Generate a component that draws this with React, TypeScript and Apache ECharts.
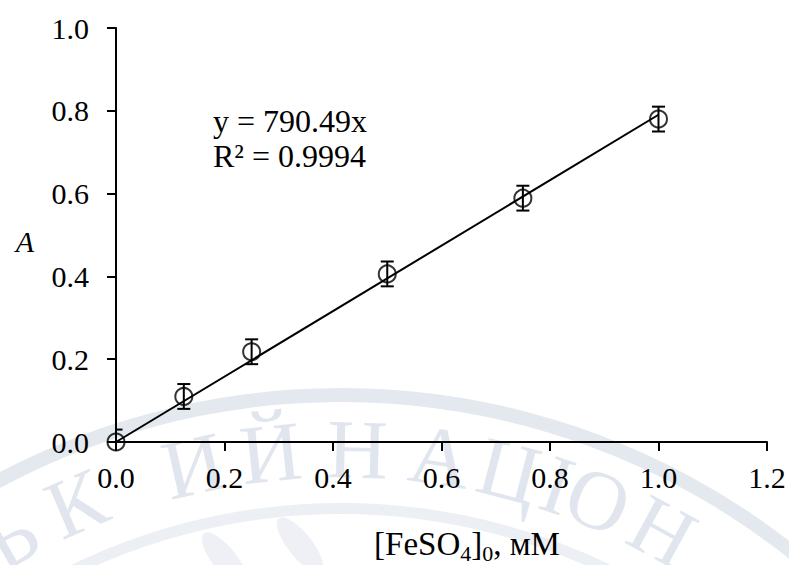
import React, { useEffect, useRef } from "react";
import * as echarts from "echarts";

// ---- data ----
const concentrations = [0, 0.125, 0.25, 0.5, 0.75, 1.0];
const absorbance = [0, 0.11, 0.218, 0.406, 0.589, 0.78];
const absError = [0.03, 0.03, 0.03, 0.03, 0.03, 0.03];
const trendX = [0, 1.0];
const trendY = [0, 0.79049];
const equationLines = ["y = 790.49x", "R² = 0.9994"];
const xTickLabels = ["0.0", "0.2", "0.4", "0.6", "0.8", "1.0", "1.2"];
const yTickLabels = ["0.0", "0.2", "0.4", "0.6", "0.8", "1.0"];

// watermark (seal) letters and their angles along the arc
const sealLetters = ["Ь", "К", "И", "Й", "Н", "А", "Ц", "І", "О", "Н"];
const sealAngles = [-29.5, -23.2, -12.7, -6.0, 1.4, 8.5, 14.5, 18.8, 22.5, 28.6];

const SERIF = "Liberation Serif";

export default function App() {
  const ref = useRef<HTMLDivElement>(null);

  useEffect(() => {
    document.body.style.margin = "0";
    if (!ref.current) return;
    const chart = echarts.init(ref.current, undefined, { renderer: "svg" });

    const cx = 341;
    const cy = 1121;
    const R = 672;
    const sealTexts = sealLetters.map((ch, i) => {
      const t = (sealAngles[i] * Math.PI) / 180;
      return {
        type: "text",
        x: cx + R * Math.sin(t),
        y: cy - R * Math.cos(t),
        rotation: -t,
        z: -100,
        silent: true,
        style: {
          text: ch,
          font: "normal 84px Liberation Serif",
          fontFamily: SERIF,
          fontSize: 84,
          fill: "#e1e5ed",
          textAlign: "center",
          textVerticalAlign: "middle",
        },
      };
    });

    const scatterData = concentrations.map((x, i) => [x, absorbance[i]]);
    const errData = concentrations.map((x, i) => [x, absorbance[i] - absError[i], absorbance[i] + absError[i]]);
    const trendData = trendX.map((x, i) => [x, trendY[i]]);

    const option: any = {
      animation: false,
      backgroundColor: "#ffffff",
      textStyle: { fontFamily: SERIF },
      grid: { left: 116, top: 28, width: 651, height: 414, containLabel: false },
      xAxis: {
        type: "value",
        min: 0,
        max: 1.2,
        interval: 0.2,
        axisLine: { show: true, lineStyle: { color: "#000", width: 2 } },
        axisTick: { show: true, inside: false, length: 9, lineStyle: { color: "#000", width: 2 } },
        splitLine: { show: false },
        axisLabel: {
          margin: 20,
          color: "#000",
          fontFamily: SERIF,
          fontSize: 30,
          formatter: (v: number) => xTickLabels[Math.round(v / 0.2)] ?? "",
        },
      },
      yAxis: {
        type: "value",
        min: 0,
        max: 1.0,
        interval: 0.2,
        axisLine: { show: true, lineStyle: { color: "#000", width: 2 } },
        axisTick: { show: true, inside: false, length: 9, lineStyle: { color: "#000", width: 2 } },
        splitLine: { show: false },
        axisLabel: {
          margin: 27,
          color: "#000",
          fontFamily: SERIF,
          fontSize: 30,
          formatter: (v: number) => yTickLabels[Math.round(v / 0.2)] ?? "",
        },
      },
      series: [
        {
          type: "line",
          data: trendData,
          showSymbol: false,
          symbol: "none",
          lineStyle: { color: "#000", width: 2 },
          z: 3,
        },
        {
          type: "custom",
          clip: true,
          data: errData,
          z: 4,
          renderItem: (params: any, api: any) => {
            const x = api.value(0);
            const lo = api.coord([x, api.value(1)]);
            const hi = api.coord([x, api.value(2)]);
            const hw = 6.5;
            const st = { stroke: "#000", lineWidth: 2 };
            return {
              type: "group",
              children: [
                { type: "line", shape: { x1: lo[0], y1: lo[1], x2: hi[0], y2: hi[1] }, style: st },
                { type: "line", shape: { x1: lo[0] - hw, y1: lo[1], x2: lo[0] + hw, y2: lo[1] }, style: st },
                { type: "line", shape: { x1: hi[0] - hw, y1: hi[1], x2: hi[0] + hw, y2: hi[1] }, style: st },
              ],
            };
          },
        },
        {
          type: "scatter",
          data: scatterData,
          symbol: "circle",
          symbolSize: 17,
          clip: false,
          itemStyle: { color: "rgba(255,255,255,0)", borderColor: "#000", borderWidth: 2 },
          z: 5,
        },
      ],
      graphic: [
        {
          type: "ring",
          z: -101,
          silent: true,
          shape: { cx, cy, r: 733, r0: 719 },
          style: { fill: "#e4e8ef" },
        },
        {
          type: "ring",
          z: -101,
          silent: true,
          shape: { cx, cy, r: 618, r0: 607 },
          style: { fill: "#eceff4" },
        },
        {
          type: "ellipse",
          z: -101,
          silent: true,
          x: 225,
          y: 560,
          rotation: -0.9,
          shape: { cx: 0, cy: 0, rx: 34, ry: 12 },
          style: { fill: "#eef0f5" },
        },
        {
          type: "ellipse",
          z: -101,
          silent: true,
          x: 300,
          y: 545,
          rotation: -0.9,
          shape: { cx: 0, cy: 0, rx: 34, ry: 12 },
          style: { fill: "#eef0f5" },
        },
        ...sealTexts,
        {
          type: "text",
          left: 213,
          top: 103,
          z: 10,
          style: {
            text: equationLines.join("\n"),
            fontFamily: SERIF,
            fontSize: 32,
            lineHeight: 35,
            fill: "#000",
          },
        },
        {
          type: "text",
          x: 25,
          y: 241,
          z: 10,
          style: {
            text: "A",
            font: "italic 30px Liberation Serif",
            fontFamily: SERIF,
            fontStyle: "italic",
            fontSize: 30,
            fill: "#000",
            textAlign: "center",
            textVerticalAlign: "middle",
          },
        },
        {
          type: "text",
          x: 467,
          y: 544,
          z: 10,
          style: {
            text: "{m|[FeSO}{s|4}{m|]}{s|0}{m|, мМ}",
            textAlign: "center",
            textVerticalAlign: "middle",
            rich: {
              m: { fontFamily: SERIF, fontSize: 33, lineHeight: 40, fill: "#000", color: "#000" },
              s: { fontFamily: SERIF, fontSize: 22, lineHeight: 25, verticalAlign: "bottom", fill: "#000", color: "#000" },
            },
          },
        },
      ],
    };

    chart.setOption(option);
    return () => chart.dispose();
  }, []);

  return <div ref={ref} style={{ width: 789, height: 565 }} />;
}
